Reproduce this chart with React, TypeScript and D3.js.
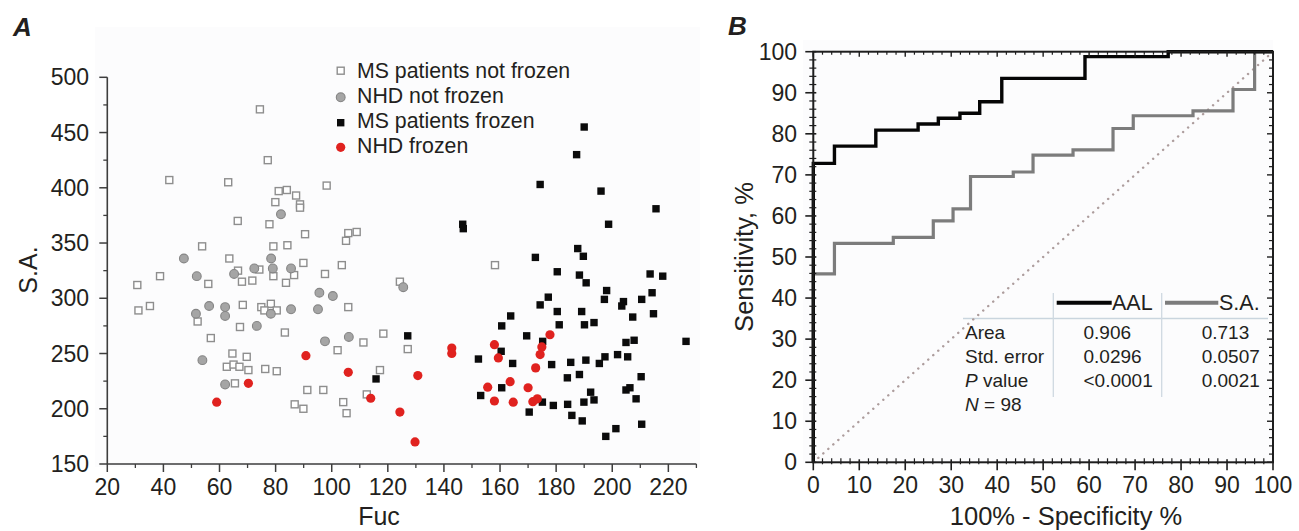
import * as d3 from 'd3';

const font = 'Arial, "Liberation Sans", Helvetica, sans-serif';
const ink = '#231f20';

// Panel A: Fuc (x) vs S.A. (y), four groups
const msNotFrozenFuc = [74.4, 77.2, 42.1, 63.1, 98.2, 81.1, 84.0, 87.3, 79.9, 88.7, 88.7, 66.5, 77.8, 90.5, 105.9, 108.9, 105.1, 53.8, 79.2, 84.2, 63.5, 89.9, 103.6, 66.6, 74.2, 30.7, 38.8, 31.1, 35.2, 56.0, 52.2, 56.9, 68.3, 67.3, 68.0, 71.7, 79.2, 74.9, 78.3, 76.0, 80.4, 83.7, 86.6, 83.3, 97.6, 105.9, 102.1, 64.6, 69.7, 62.6, 65.0, 67.1, 70.3, 76.3, 80.4, 65.5, 91.3, 97.0, 86.8, 89.9, 104.1, 105.3, 118.4, 127.1, 117.2, 112.5, 111.3, 124.3, 158.2];
const msNotFrozenSA = [471, 425, 407, 405, 402, 397, 398, 393, 387, 385, 382, 370, 367, 358, 359, 360, 352, 347, 347, 348, 336, 332, 330, 325, 326, 312, 320, 289, 293, 313, 279, 264, 294, 274, 315, 316, 320, 292, 295, 289, 289, 314, 321, 269, 322, 292, 253, 250, 247, 238, 240, 238, 235, 236, 234, 223, 217, 217, 204, 200, 206, 196, 268, 254, 235, 213, 260, 315, 330];

const nhdNotFrozenFuc = [81.9, 47.3, 78.4, 51.9, 65.2, 72.4, 79.0, 85.5, 95.6, 100.4, 51.6, 56.3, 62.0, 62.0, 78.3, 85.5, 95.1, 73.3, 97.6, 106.1, 53.9, 62.0, 125.5];
const nhdNotFrozenSA = [376, 336, 336, 320, 322, 327, 327, 327, 305, 302, 286, 293, 292, 284, 286, 290, 290, 275, 261, 265, 244, 222, 310];

const msFrozenFuc = [190.0, 187.3, 174.3, 196.0, 215.6, 198.7, 146.7, 146.9, 187.7, 189.7, 172.6, 180.4, 188.3, 190.7, 213.5, 218.0, 198.0, 214.2, 177.2, 174.3, 197.2, 204.0, 203.4, 210.5, 180.4, 189.1, 214.7, 163.8, 160.6, 181.1, 190.1, 193.5, 207.3, 169.5, 175.2, 204.9, 207.8, 226.3, 160.4, 152.3, 164.5, 178.4, 185.2, 190.6, 195.4, 197.4, 201.9, 205.5, 184.0, 188.3, 210.3, 160.6, 153.1, 175.1, 179.0, 184.1, 189.9, 192.3, 193.5, 204.9, 206.3, 208.5, 170.4, 185.6, 189.3, 210.5, 201.3, 197.7, 127.1, 115.8];
const msFrozenSA = [455, 430, 403, 397, 381, 367, 367, 363, 345, 338, 337, 324, 321, 314, 322, 320, 307, 305, 301, 294, 299, 297, 293, 299, 288, 288, 286, 284, 275, 276, 276, 278, 283, 266, 261, 260, 262, 261, 252, 245, 241, 240, 242, 244, 241, 247, 249, 247, 228, 231, 229, 219, 212, 206, 203, 204, 206, 215, 208, 217, 219, 209, 197, 194, 189, 186, 182, 175, 266, 227];

const nhdFrozenFuc = [59.0, 70.3, 90.8, 105.9, 113.9, 124.3, 129.7, 130.7, 142.8, 142.8, 158.0, 159.4, 155.6, 163.6, 158.0, 164.7, 170.0, 172.7, 174.3, 174.9, 177.8, 171.7, 173.3];
const nhdFrozenSA = [206, 223, 248, 233, 209.5, 197, 170, 230, 255, 250, 258, 246, 219.5, 224.5, 207, 206, 219, 237, 249, 256, 267, 206.4, 209];

const legendLabels = ['MS patients not frozen', 'NHD not frozen', 'MS patients frozen', 'NHD frozen'];
const fucTicks = [20, 40, 60, 80, 100, 120, 140, 160, 180, 200, 220];
const saTicks = [150, 200, 250, 300, 350, 400, 450, 500];

// Panel B: ROC curves (step vertices, horizontal run starts)
const aalFpr = [0, 0, 4.6, 13.6, 22.8, 27.2, 31.9, 36.2, 41.0, 59.1, 77.2, 100];
const aalSens = [0, 72.8, 77.0, 80.9, 82.4, 83.8, 85.0, 87.8, 93.5, 98.8, 100, 100];
const saFpr = [0, 0, 4.6, 17.4, 26.1, 30.4, 34.2, 43.5, 47.8, 56.5, 65.2, 69.6, 82.6, 91.3, 96.0, 100];
const saSens = [0, 45.9, 53.3, 54.8, 58.8, 61.7, 69.6, 70.7, 74.8, 76.1, 81.3, 84.4, 85.6, 90.8, 100, 100];
const pctTicks = [0, 10, 20, 30, 40, 50, 60, 70, 80, 90, 100];

const aalStats = ['0.906', '0.0296', '<0.0001'];
const saStats = ['0.713', '0.0507', '0.0021'];

const xA = d3.scaleLinear().domain([20, 230]).range([107.3, 696.4]);
const yA = d3.scaleLinear().domain([150, 500]).range([464, 77.3]);
const xB = d3.scaleLinear().domain([0, 100]).range([813.3, 1273]);
const yB = d3.scaleLinear().domain([0, 100]).range([462.3, 51.7]);

function pts(xs: number[], ys: number[]) {
  return xs.map((x, i) => [x, ys[i]] as [number, number]);
}

function PanelA() {
  const axisColor = '#3d3d3d';
  const minorX = d3.range(30, 231, 20);
  const minorY = d3.range(175, 500, 50);
  const legendY = [70.7, 97.3, 122.7, 147.3];
  return (
    <g fontFamily={font}>
      <rect x={95} y={27} width={605} height={440} fill="#fcfcfd" />
      <text x={13} y={36} fontSize={26} fontWeight="bold" fontStyle="italic" fill={ink}>A</text>

      {/* axes */}
      <line x1={xA(20)} x2={xA(20)} y1={yA(150)} y2={yA(500)} stroke={axisColor} strokeWidth={1.6} />
      <line x1={xA(20)} x2={xA(230)} y1={yA(150)} y2={yA(150)} stroke={axisColor} strokeWidth={1.6} />
      {saTicks.map((t) => (
        <g key={`ya${t}`}>
          <line x1={xA(20) - 8} x2={xA(20)} y1={yA(t)} y2={yA(t)} stroke={axisColor} strokeWidth={1.5} />
          <text x={89} y={yA(t) + 8} textAnchor="end" fontSize={23} fill={ink}>{t}</text>
        </g>
      ))}
      {minorY.map((t) => (
        <line key={`yam${t}`} x1={xA(20) - 4} x2={xA(20)} y1={yA(t)} y2={yA(t)} stroke={axisColor} strokeWidth={1.3} />
      ))}
      {fucTicks.map((t) => (
        <g key={`xa${t}`}>
          <line x1={xA(t)} x2={xA(t)} y1={yA(150)} y2={yA(150) + 8} stroke={axisColor} strokeWidth={1.5} />
          <text x={xA(t)} y={495} textAnchor="middle" fontSize={23} fill={ink}>{t}</text>
        </g>
      ))}
      {minorX.map((t) => (
        <line key={`xam${t}`} x1={xA(t)} x2={xA(t)} y1={yA(150)} y2={yA(150) + 4} stroke={axisColor} strokeWidth={1.3} />
      ))}
      <text x={379} y={525} textAnchor="middle" fontSize={25} fill={ink}>Fuc</text>
      <text transform="translate(37,270) rotate(-90)" textAnchor="middle" fontSize={25} fill={ink}>S.A.</text>

      {/* points */}
      {pts(msNotFrozenFuc, msNotFrozenSA).map(([x, y], i) => (
        <rect key={`mn${i}`} x={xA(x) - 3.5} y={yA(y) - 3.5} width={7} height={7} fill="#ffffff" stroke="#8e8e8e" strokeWidth={1.4} />
      ))}
      {pts(nhdNotFrozenFuc, nhdNotFrozenSA).map(([x, y], i) => (
        <circle key={`nn${i}`} cx={xA(x)} cy={yA(y)} r={4.4} fill="#a5a5a5" stroke="#858585" strokeWidth={1.1} />
      ))}
      {pts(msFrozenFuc, msFrozenSA).map(([x, y], i) => (
        <rect key={`mf${i}`} x={xA(x) - 3.7} y={yA(y) - 3.7} width={7.4} height={7.4} fill="#0b0b0b" />
      ))}
      {pts(nhdFrozenFuc, nhdFrozenSA).map(([x, y], i) => (
        <circle key={`nf${i}`} cx={xA(x)} cy={yA(y)} r={4.6} fill="#e0221f" />
      ))}

      {/* legend */}
      <rect x={337.2} y={legendY[0] - 3.5} width={7} height={7} fill="#ffffff" stroke="#8e8e8e" strokeWidth={1.4} />
      <circle cx={340.7} cy={legendY[1]} r={4.4} fill="#a5a5a5" stroke="#858585" strokeWidth={1.1} />
      <rect x={337} y={legendY[2] - 3.7} width={7.4} height={7.4} fill="#0b0b0b" />
      <circle cx={340.7} cy={legendY[3]} r={4.6} fill="#e0221f" />
      {legendLabels.map((label, i) => (
        <text key={label} x={357} y={78.3 + i * 25} fontSize={21.3} fill={ink}>{label}</text>
      ))}
    </g>
  );
}

function PanelB() {
  const axisColor = '#1e1e1e';
  const minor = d3.range(0, 101, 2).filter((v) => v % 10 !== 0);
  const step = d3.line<[number, number]>().x((d) => xB(d[0])).y((d) => yB(d[1])).curve(d3.curveStepAfter);
  const diag = d3.line<[number, number]>().x((d) => xB(d[0])).y((d) => yB(d[1]));
  const x0 = xB(0);
  const x1 = xB(100);
  const y0 = yB(0);
  const y1 = yB(100);
  const rowY = [339, 363, 387, 411];
  return (
    <g fontFamily={font}>
      <rect x={803} y={40} width={470} height={423} fill="#fcfcfd" />
      <text x={728} y={35} fontSize={26} fontWeight="bold" fontStyle="italic" fill={ink}>B</text>

      {/* table lines */}
      <line x1={963} x2={1268} y1={318.5} y2={318.5} stroke="#c9d5de" strokeWidth={1.3} />
      <line x1={1053.3} x2={1053.3} y1={293} y2={397} stroke="#cfd9e1" strokeWidth={1.3} />
      <line x1={1161.7} x2={1161.7} y1={293} y2={397} stroke="#cfd9e1" strokeWidth={1.3} />

      {/* diagonal reference */}
      <path d={diag([[0, 0], [100, 100]]) ?? ''} fill="none" stroke="#ad9d9d" strokeWidth={2.4} strokeLinecap="round" strokeDasharray="0.1 6.6" />

      {/* ROC curves */}
      <path d={step(pts(saFpr, saSens)) ?? ''} fill="none" stroke="#7c7c7c" strokeWidth={3.2} />
      <path d={step(pts(aalFpr, aalSens)) ?? ''} fill="none" stroke="#050505" strokeWidth={3.4} />

      {/* frame */}
      <rect x={x0} y={y1} width={x1 - x0} height={y0 - y1} fill="none" stroke={axisColor} strokeWidth={2} />
      {pctTicks.map((t) => (
        <g key={`bt${t}`}>
          <line x1={xB(t)} x2={xB(t)} y1={y0 - 3} y2={y0 + 8} stroke={axisColor} strokeWidth={1.6} />
          <line x1={xB(t)} x2={xB(t)} y1={y1} y2={y1 + 5} stroke={axisColor} strokeWidth={1.4} />
          <line x1={x0 - 8} x2={x0 + 3} y1={yB(t)} y2={yB(t)} stroke={axisColor} strokeWidth={1.6} />
          <line x1={x1 - 6} x2={x1} y1={yB(t)} y2={yB(t)} stroke={axisColor} strokeWidth={1.4} />
          <text x={xB(t)} y={493} textAnchor="middle" fontSize={23} fill={ink}>{t}</text>
          <text x={797} y={yB(t) + 8} textAnchor="end" fontSize={23} fill={ink}>{t}</text>
        </g>
      ))}
      {minor.map((t) => (
        <g key={`bm${t}`}>
          <line x1={xB(t)} x2={xB(t)} y1={y0 - 4} y2={y0 + 2} stroke={axisColor} strokeWidth={1.2} />
          <line x1={xB(t)} x2={xB(t)} y1={y1} y2={y1 + 3} stroke={axisColor} strokeWidth={1.2} />
          <line x1={x0 - 4} x2={x0 + 3} y1={yB(t)} y2={yB(t)} stroke={axisColor} strokeWidth={1.2} />
          <line x1={x1 - 4} x2={x1} y1={yB(t)} y2={yB(t)} stroke={axisColor} strokeWidth={1.2} />
        </g>
      ))}
      <text x={1066} y={525} textAnchor="middle" fontSize={25.5} fill={ink}>100% - Specificity %</text>
      <text transform="translate(753,257) rotate(-90)" textAnchor="middle" fontSize={25.5} fill={ink}>Sensitivity, %</text>

      {/* legend */}
      <line x1={1056.7} x2={1111.7} y1={302.7} y2={302.7} stroke="#050505" strokeWidth={4} />
      <text x={1112} y={310} fontSize={21.5} fill={ink}>AAL</text>
      <line x1={1165} x2={1218.3} y1={302.7} y2={302.7} stroke="#7c7c7c" strokeWidth={4} />
      <text x={1219} y={310} fontSize={21.5} fill={ink}>S.A.</text>

      {/* statistics */}
      <text x={965} y={rowY[0]} fontSize={19} fill={ink}>Area</text>
      <text x={965} y={rowY[1]} fontSize={19} fill={ink}>Std. error</text>
      <text x={965} y={rowY[2]} fontSize={19} fill={ink}>
        <tspan fontStyle="italic">P</tspan> value
      </text>
      <text x={965} y={rowY[3]} fontSize={19} fill={ink}>
        <tspan fontStyle="italic">N</tspan> = 98
      </text>
      {aalStats.map((v, i) => (
        <text key={`aal${i}`} x={1083.5} y={rowY[i]} fontSize={19} fill={ink}>{v}</text>
      ))}
      {saStats.map((v, i) => (
        <text key={`sa${i}`} x={1201.7} y={rowY[i]} fontSize={19} fill={ink}>{v}</text>
      ))}
    </g>
  );
}

export default function App() {
  return (
    <svg
      width={1299}
      height={531}
      viewBox="0 0 1299 531"
      style={{ position: 'absolute', left: 0, top: 0, display: 'block', background: '#ffffff' }}
    >
      <rect width={1299} height={531} fill="#ffffff" />
      <PanelA />
      <PanelB />
    </svg>
  );
}
